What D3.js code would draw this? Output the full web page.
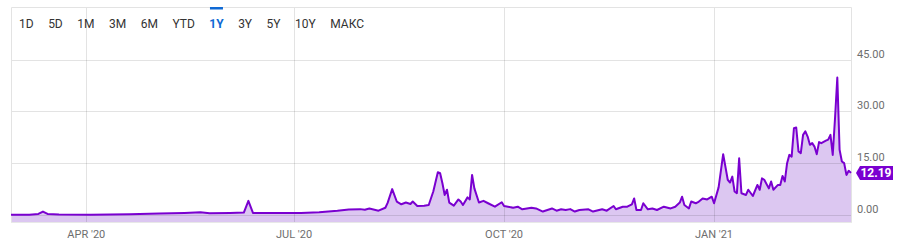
<!DOCTYPE html>
<html>
<head>
<meta charset="utf-8">
<script src="https://cdn.jsdelivr.net/npm/d3@7"></script>
<style>
  body { margin: 0; background: #fff; }
  svg { display: block; font-family: Roboto, "Noto Sans", sans-serif; }
</style>
</head>
<body>
<div id="chart"></div>
<script>
// range buttons
var ranges = ['1D', '5D', '1M', '3M', '6M', 'YTD', '1Y', '3Y', '5Y', '10Y', 'МАКС'];
var activeRange = '1Y';

// y ticks
var yTicks = [0, 15, 30, 45];
var lastValue = 12.19;

// x ticks (quarter starts)
var xTicks = ['2020-04-01', '2020-07-01', '2020-10-01', '2021-01-01'];

// series
var dates = [
  '2020-02-28', '2020-03-07', '2020-03-11', '2020-03-13', '2020-03-15', '2020-03-20',
  '2020-04-03', '2020-04-20', '2020-05-03', '2020-05-14', '2020-05-21', '2020-05-25',
  '2020-06-03', '2020-06-09', '2020-06-11', '2020-06-13', '2020-06-20', '2020-07-04',
  '2020-07-12', '2020-07-20', '2020-07-25', '2020-07-30', '2020-08-01', '2020-08-03',
  '2020-08-07', '2020-08-10', '2020-08-11', '2020-08-13', '2020-08-15', '2020-08-17',
  '2020-08-19', '2020-08-21', '2020-08-22', '2020-08-24', '2020-08-27', '2020-08-29',
  '2020-08-31', '2020-09-02', '2020-09-03', '2020-09-04', '2020-09-05', '2020-09-06',
  '2020-09-07', '2020-09-09', '2020-09-11', '2020-09-12', '2020-09-13', '2020-09-15',
  '2020-09-16', '2020-09-17', '2020-09-18', '2020-09-20', '2020-09-22', '2020-09-24',
  '2020-09-27', '2020-09-30', '2020-10-01', '2020-10-05', '2020-10-07', '2020-10-09',
  '2020-10-13', '2020-10-15', '2020-10-18', '2020-10-22', '2020-10-24', '2020-10-26',
  '2020-10-28', '2020-10-30', '2020-11-01', '2020-11-03', '2020-11-07', '2020-11-09',
  '2020-11-13', '2020-11-15', '2020-11-18', '2020-11-19', '2020-11-22', '2020-11-24',
  '2020-11-26', '2020-11-27', '2020-11-28', '2020-11-30', '2020-12-01', '2020-12-03',
  '2020-12-05', '2020-12-07', '2020-12-10', '2020-12-13', '2020-12-15', '2020-12-17',
  '2020-12-18', '2020-12-19', '2020-12-21', '2020-12-22', '2020-12-24', '2020-12-25',
  '2020-12-27', '2020-12-29', '2020-12-31', '2021-01-01', '2021-01-03', '2021-01-05',
  '2021-01-07', '2021-01-08', '2021-01-09', '2021-01-10', '2021-01-11', '2021-01-12',
  '2021-01-13', '2021-01-15', '2021-01-16', '2021-01-18', '2021-01-20', '2021-01-21',
  '2021-01-22', '2021-01-23', '2021-01-25', '2021-01-26', '2021-01-27', '2021-01-29',
  '2021-01-30', '2021-01-31', '2021-02-01', '2021-02-02', '2021-02-03', '2021-02-04',
  '2021-02-05', '2021-02-06', '2021-02-07', '2021-02-08', '2021-02-09', '2021-02-10',
  '2021-02-11', '2021-02-12', '2021-02-13', '2021-02-14', '2021-02-15', '2021-02-16',
  '2021-02-17', '2021-02-19', '2021-02-20', '2021-02-21', '2021-02-22', '2021-02-23',
  '2021-02-24', '2021-02-25', '2021-02-26', '2021-02-27', '2021-02-28', '2021-03-01',
  '2021-03-02'
];
var values = [
  0.1, 0.1, 0.3, 1.0, 0.3, 0.15,
  0.1, 0.2, 0.4, 0.6, 0.8, 0.5,
  0.6, 0.7, 4.1, 0.6, 0.6, 0.6,
  0.8, 1.2, 1.6, 1.7, 1.5, 1.9,
  1.25, 2.1, 3.5, 7.5, 3.9, 3.1,
  3.6, 3.2, 3.9, 2.6, 2.7, 2.9,
  6.8, 12.4, 12.1, 9.2, 5.8, 7.3,
  3.6, 2.7, 4.5, 3.9, 2.9, 5.1,
  4.5, 11.6, 7.7, 3.6, 4.1, 3.4,
  2.4, 3.7, 2.6, 2.1, 2.4, 1.65,
  2.1, 1.9, 1.0, 1.9, 1.25, 1.65,
  1.45, 1.7, 1.0, 1.45, 1.65, 1.0,
  1.65, 1.25, 2.6, 1.65, 2.4, 2.4,
  3.1, 4.8, 1.45, 1.45, 3.4, 1.65,
  1.9, 1.45, 2.4, 1.9, 2.4, 3.6,
  5.3, 2.9, 1.9, 3.9, 3.4, 3.7,
  4.8, 4.5, 5.3, 3.4, 8.0, 17.6,
  10.2, 9.4, 11.1, 6.8, 6.3, 16.4,
  6.3, 5.8, 7.3, 5.5, 8.7, 7.3,
  10.6, 10.2, 7.7, 9.7, 7.3, 8.7,
  8.7, 11.3, 9.7, 15.0, 17.4, 16.9,
  25.1, 25.3, 18.4, 17.9, 23.2, 24.2,
  22.7, 20.3, 20.8, 19.8, 17.6, 21.1,
  20.8, 21.5, 21.8, 23.2, 17.4, 28.0,
  39.8, 18.9, 15.5, 15.0, 11.6, 12.8,
  12.19
];

var width = 899, height = 247;
var plot = { left: 11, right: 851, top: 7, bottom: 222 };
var purple = '#7a00d0';

var parse = d3.timeParse('%Y-%m-%d');
var data = dates.map(function(d, i) {
  return { date: parse(d), value: values[i] };
});

var x = d3.scaleTime()
  .domain([parse('2020-02-28'), parse('2021-03-02')])
  .range([plot.left, plot.right]);

// 0 sits at 215, 45 at 59.5
var y = d3.scaleLinear()
  .domain([0, 45])
  .range([215, 59.5]);

var svg = d3.select('#chart').append('svg')
  .attr('width', width)
  .attr('height', height);

// area + line
var area = d3.area()
  .x(function(d) { return x(d.date); })
  .y0(plot.bottom)
  .y1(function(d) { return y(d.value); });

var line = d3.line()
  .x(function(d) { return x(d.date); })
  .y(function(d) { return y(d.value); });

svg.append('path')
  .datum(data)
  .attr('d', area)
  .attr('fill', '#dcc7f1');

// grid
svg.append('g')
  .selectAll('line')
  .data(yTicks)
  .enter().append('line')
  .attr('x1', plot.left)
  .attr('x2', plot.right)
  .attr('y1', function(d) { return Math.round(y(d)) + 0.5; })
  .attr('y2', function(d) { return Math.round(y(d)) + 0.5; })
  .attr('stroke', 'rgba(0,0,0,0.11)');

svg.append('g')
  .selectAll('line')
  .data(xTicks)
  .enter().append('line')
  .attr('x1', function(d) { return Math.round(x(parse(d))) + 0.5; })
  .attr('x2', function(d) { return Math.round(x(parse(d))) + 0.5; })
  .attr('y1', plot.top)
  .attr('y2', plot.bottom)
  .attr('stroke', 'rgba(0,0,0,0.11)');

// frame
svg.append('path')
  .attr('d', 'M' + (plot.left + 0.5) + ',' + plot.bottom + 'V' + (plot.top + 0.5) +
    'H' + (plot.right + 0.5) + 'V' + plot.bottom)
  .attr('fill', 'none')
  .attr('stroke', '#e3e3e3');
svg.append('line')
  .attr('x1', plot.left).attr('x2', plot.right + 1)
  .attr('y1', plot.bottom + 0.5).attr('y2', plot.bottom + 0.5)
  .attr('stroke', '#e8e8e8');

svg.append('path')
  .datum(data)
  .attr('d', line)
  .attr('fill', 'none')
  .attr('stroke', purple)
  .attr('stroke-width', 2)
  .attr('stroke-linejoin', 'round');

// y labels
svg.append('g')
  .selectAll('text')
  .data(yTicks)
  .enter().append('text')
  .attr('x', 857)
  .attr('y', function(d) { return y(d) - 2; })
  .attr('font-size', 11)
  .attr('fill', '#6e6e6e')
  .text(function(d) { return d3.format('.2f')(d); });

// x labels
var fmt = d3.timeFormat("%b '%y");
svg.append('g')
  .selectAll('text')
  .data(xTicks)
  .enter().append('text')
  .attr('x', function(d) { return x(parse(d)); })
  .attr('y', 238)
  .attr('text-anchor', 'middle')
  .attr('font-size', 11)
  .attr('fill', '#6e6e6e')
  .text(function(d) { return fmt(parse(d)).toUpperCase(); });

// last value tag
var ty = y(lastValue);
svg.append('path')
  .attr('d', 'M856,' + ty + 'L860,' + (ty - 7) + 'H893V' + (ty + 7) + 'H860Z')
  .attr('fill', purple);
svg.append('text')
  .attr('x', 876)
  .attr('y', ty + 4.5)
  .attr('text-anchor', 'middle')
  .attr('font-size', 12)
  .attr('font-weight', 'bold')
  .attr('fill', '#fff')
  .text(d3.format('.2f')(lastValue));

// range buttons
var bx = 19;
var btn = svg.append('g');
ranges.forEach(function(r) {
  var t = btn.append('text')
    .attr('x', bx)
    .attr('y', 27.5)
    .attr('font-size', 12)
    .attr('font-weight', r === activeRange ? 'bold' : 'normal')
    .attr('fill', r === activeRange ? '#0f69d4' : '#333')
    .text(r);
  var w = t.node().getComputedTextLength();
  if (r === activeRange) {
    btn.append('rect')
      .attr('x', bx + w / 2 - 6.5)
      .attr('y', 7)
      .attr('width', 13)
      .attr('height', 2.5)
      .attr('fill', '#0f69d4');
  }
  bx += w + 14.5;
});
</script>
</body>
</html>
